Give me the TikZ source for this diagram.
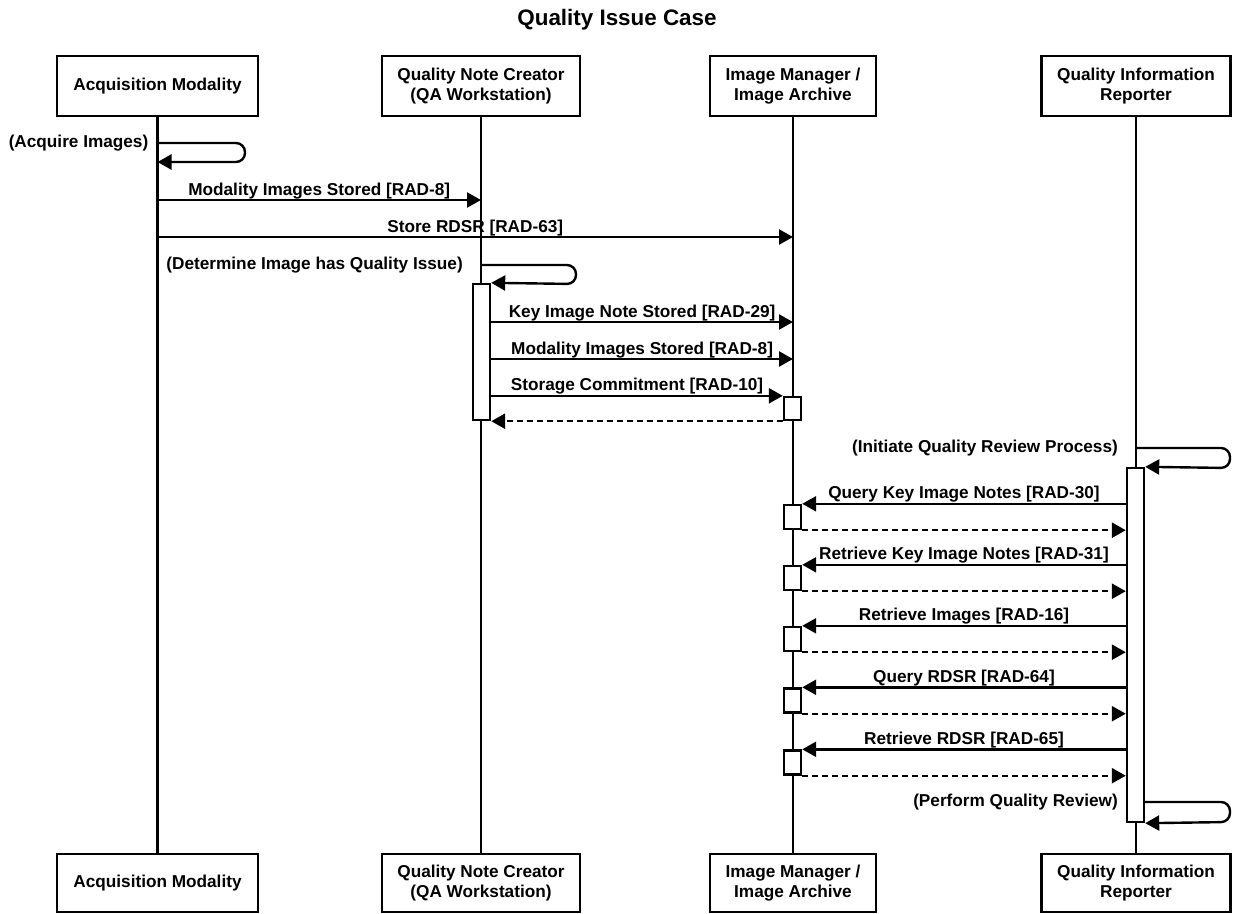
\documentclass[tikz,border=0pt]{standalone}
\usepackage{fontspec}
\setmainfont{Liberation Sans}
\usetikzlibrary{arrows.meta}
\begin{document}
\begin{tikzpicture}[x=1pt,y=-1pt,
  lbl/.style={font=\fontsize{17.2}{19.5}\selectfont\bfseries},
  actor/.style={draw, line width=2.4pt, minimum height=60pt, inner sep=0pt, align=center, lbl},
  life/.style={line width=2.4pt},
  msg/.style={line width=2.4pt, -{Triangle[length=14pt,width=15pt]}},
  ret/.style={msg, dash pattern=on 6pt off 4pt},
  bar/.style={draw, fill=white, line width=2.4pt, minimum width=17pt, inner sep=0pt},
  mlab/.style={lbl, anchor=base, yshift=5pt, inner sep=0pt},
  note/.style={lbl, anchor=east, inner sep=0pt},
]
\useasboundingbox (0,0) rectangle (1233,913);
\node[font=\fontsize{22.4}{26}\selectfont\bfseries] (title) at (617,20) {Quality Issue Case};

% actors top
\node[actor, minimum width=201pt] (amT) at (157.5,86) {Acquisition Modality};
\node[actor, minimum width=198pt] (qnT) at (481,86) {Quality Note Creator\\(QA Workstation)};
\node[actor, minimum width=166pt] (imT) at (793,86) {Image Manager /\\Image Archive};
\node[actor, minimum width=189pt] (qiT) at (1136,86) {Quality Information\\Reporter};
% actors bottom
\node[actor, minimum width=201pt, minimum height=58pt] (amB) at (157.5,883) {Acquisition Modality};
\node[actor, minimum width=198pt, minimum height=58pt] (qnB) at (481,883) {Quality Note Creator\\(QA Workstation)};
\node[actor, minimum width=166pt, minimum height=58pt] (imB) at (793,883) {Image Manager /\\Image Archive};
\node[actor, minimum width=189pt, minimum height=58pt] (qiB) at (1136,883) {Quality Information\\Reporter};

% lifelines
\draw[life] (amT.south) -- (amB.north);
\draw[life] (qnT.south) -- (qnB.north);
\draw[life] (imT.south) -- (imB.north);
\draw[life] (qiT.south) -- (qiB.north);

% row coordinates
\coordinate (ya) at (0,143);
\coordinate (yb) at (0,162);
\coordinate (y1) at (0,200);
\coordinate (y2) at (0,237);
\coordinate (yd) at (0,265);
\coordinate (y3) at (0,322);
\coordinate (y4) at (0,359);
\coordinate (yi) at (0,448);
\coordinate (yp) at (0,802);

% activation bars
\node[bar, minimum height=136pt] (qbar) at (481.5,352) {};
\node[bar, minimum height=23pt] (ib0) at (792.5,408.5) {};
\node[bar, minimum height=354pt] (rbar) at (1135.5,645) {};
\node[bar, minimum height=24pt] (ib1) at (792.5,517) {};
\node[bar, minimum height=24pt] (ib2) at (792.5,578) {};
\node[bar, minimum height=24pt] (ib3) at (792.5,639) {};
\node[bar, minimum height=24pt] (ib4) at (792.5,700.5) {};
\node[bar, minimum height=24pt] (ib5) at (792.5,762.5) {};

% loop right-end coordinates
\coordinate (la1) at (245,143);
\coordinate (la2) at (245,162);
\coordinate (ld1) at (576,265);
\coordinate (ld2) at (576,284);
\coordinate (li1) at (1230,448);
\coordinate (li2) at (1230,468);
\coordinate (lp1) at (1230,802);
\coordinate (lp2) at (1230,822);

% acquire images
\draw[msg, rounded corners=9pt] (amT |- ya) -- (la1) -- (la2) -- (amT |- yb);
\node[note, xshift=-9pt] (nacq) at (amT |- ya) {(Acquire Images)};

\draw[msg] (amT |- y1) -- node[mlab] {Modality Images Stored [RAD-8]} (qnT |- y1);
\draw[msg] (amT |- y2) -- node[mlab] {Store RDSR [RAD-63]} (imT |- y2);

% determine
\draw[msg, rounded corners=9pt] (qnT |- yd) -- (ld1) -- (ld2) -- (qbar.north east);
\node[note, xshift=-18pt] (ndet) at (qnT |- yd) {(Determine Image has Quality Issue)};

\draw[msg] (qbar.east |- y3) -- node[mlab] {Key Image Note Stored [RAD-29]} (imT |- y3);
\draw[msg] (qbar.east |- y4) -- node[mlab] {Modality Images Stored [RAD-8]} (imT |- y4);
\draw[msg] (qbar.east |- ib0.north) -- node[mlab] {Storage Commitment [RAD-10]} (ib0.north west);
\draw[ret] (ib0.south west) -- (qbar.east |- ib0.south);

% initiate
\draw[msg, rounded corners=9pt] (qiT |- yi) -- (li1) -- (li2) -- (rbar.north east);
\node[note, xshift=-18pt] (nini) at (qiT |- yi) {(Initiate Quality Review Process)};

\draw[msg] (rbar.west |- ib1.north) -- node[mlab] {Query Key Image Notes [RAD-30]} (ib1.north east);
\draw[ret] (ib1.south east) -- (rbar.west |- ib1.south);
\draw[msg] (rbar.west |- ib2.north) -- node[mlab] {Retrieve Key Image Notes [RAD-31]} (ib2.north east);
\draw[ret] (ib2.south east) -- (rbar.west |- ib2.south);
\draw[msg] (rbar.west |- ib3.north) -- node[mlab] {Retrieve Images [RAD-16]} (ib3.north east);
\draw[ret] (ib3.south east) -- (rbar.west |- ib3.south);
\draw[msg] (rbar.west |- ib4.north) -- node[mlab] {Query RDSR [RAD-64]} (ib4.north east);
\draw[ret] (ib4.south east) -- (rbar.west |- ib4.south);
\draw[msg] (rbar.west |- ib5.north) -- node[mlab] {Retrieve RDSR [RAD-65]} (ib5.north east);
\draw[ret] (ib5.south east) -- (rbar.west |- ib5.south);

% perform
\draw[msg, rounded corners=9pt] (rbar.east |- yp) -- (lp1) -- (lp2) -- (rbar.south east);
\node[note, xshift=-18pt] (nper) at (qiT |- yp) {(Perform Quality Review)};
\end{tikzpicture}
\end{document}
